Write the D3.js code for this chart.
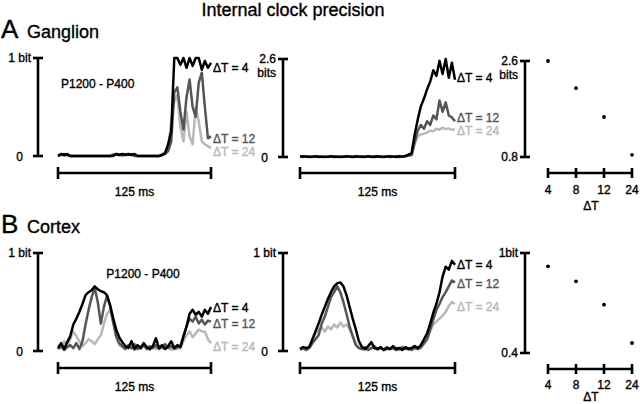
<!DOCTYPE html>
<html><head><meta charset="utf-8">
<script src="https://cdn.jsdelivr.net/npm/d3@7"></script>
<style>
body{margin:0;background:#fff}
text{font-family:"Liberation Sans",Arial,Helvetica,sans-serif;fill:#000}
</style>
</head><body>
<svg id="chart" width="640" height="404"></svg>
<script>
// ---------- data ----------
const seriesLabels = ["ΔT = 4", "ΔT = 12", "ΔT = 24"];
const deltaTLabels = ["4", "8", "12", "24"];
const scaleBarLabel = "125 ms";

// Ganglion, P1200 - P400 (bits, 0..1)
const ganglion1_dt4  = [0,0.02,0.01,0.02,0,0,0,0,0,0, 0,0,0,0,0,0,0,0,0,0.02, 0.01,0.02,0.01,0.02,0.01,0.02,0,0,0,0, 0,0,0,0,0.01,0.03,0.12,0.25,1,1, 0.93,1,0.9,1,0.92,1,1,0.88,0.97,0.9, 0.95];
const ganglion1_dt12 = [0,0.01,0.02,0.01,0,0,0,0,0,0, 0,0,0,0,0,0,0,0,0.01,0.02, 0.01,0.01,0.02,0.01,0.02,0,0,0,0,0, 0,0,0,0,0.01,0.02,0.05,0.15,0.65,0.7, 0.45,0.27,0.6,0.78,0.5,0.4,0.75,0.85,0.5,0.18, 0.2];
const ganglion1_dt24 = [0.01,0.02,0,0.01,0,0,0,0,0,0, 0,0,0,0,0,0,0,0,0.02,0.01, 0.02,0,0.01,0.02,0.01,0.01,0,0,0,0, 0,0,0,0,0.02,0.04,0.1,0.35,0.55,0.62, 0.3,0.15,0.45,0.2,0.12,0.5,0.35,0.15,0.12,0.1, 0.08];

// Ganglion, second panel (bits, 0..2.6)
const ganglion2_dt4  = [0.01,0.02,0.01,0,0.01,0.02,0,0.01,0,0.01, 0.02,0,0.01,0,0.01,0.02,0.01,0,0.02,0.01, 0,0.01,0.02,0.01,0,0.02,0.01,0,0.01,0.02, 0.01,0,0.02,0.01,0.03,0.06,0.1,0.6,1.0,1.35, 1.55,1.8,2.0,2.3,2.15,2.55,2.2,2.6,2.1,2.5, 2.05];
const ganglion2_dt12 = [0.01,0,0.02,0.01,0,0.01,0.02,0,0.01,0, 0.01,0.02,0,0.01,0,0.01,0.02,0.01,0,0.01, 0.02,0,0.01,0,0.02,0.01,0,0.01,0.02,0, 0.01,0.02,0,0.01,0.02,0.04,0.05,0.4,0.7,0.85, 0.75,0.95,0.85,1.1,1.0,1.5,1.2,1.45,1.1,1.05, 0.95];
const ganglion2_dt24 = [0.02,0.01,0,0.02,0.01,0,0.01,0.02,0,0.01, 0,0.02,0.01,0,0.02,0,0.01,0,0.01,0.02, 0.01,0,0.02,0.01,0,0.01,0.02,0,0.01,0, 0.02,0.01,0,0.02,0.01,0.03,0.05,0.35,0.55,0.6, 0.62,0.65,0.7,0.68,0.75,0.72,0.78,0.74,0.76,0.72, 0.74];

// Cortex, P1200 - P400 (bits, 0..1)
const cortex1_dt4  = [0.03,0.08,0.02,0.09,0.15,0.27,0.33,0.4,0.48,0.57, 0.6,0.62,0.66,0.63,0.61,0.6,0.57,0.47,0.34,0.22, 0.14,0.09,0.05,0.03,0.1,0.02,0.06,0.03,0.08,0.04, 0.02,0.05,0.13,0.03,0.06,0.02,0.05,0.1,0.03,0.06, 0.04,0.15,0.25,0.38,0.42,0.37,0.4,0.35,0.42,0.38, 0.45];
const cortex1_dt12 = [0.02,0.05,0.01,0.04,0.06,0.03,0.08,0.02,0.1,0.27, 0.42,0.55,0.64,0.5,0.28,0.45,0.56,0.47,0.3,0.15, 0.08,0.05,0.02,0.06,0.03,0.07,0.02,0.04,0.06,0.02, 0.05,0.03,0.06,0.02,0.04,0.07,0.03,0.05,0.02,0.04, 0.05,0.15,0.25,0.33,0.3,0.35,0.28,0.32,0.27,0.31, 0.3];
const cortex1_dt24 = [0.06,0.03,0.1,0.05,0.12,0.2,0.15,0.1,0.05,0.08, 0.12,0.1,0.07,0.12,0.16,0.28,0.38,0.42,0.3,0.15, 0.06,0.04,0.02,0.05,0.03,0.01,0.04,0.02,0.05,0.03, 0.01,0.04,0.02,0.05,0.03,0.02,0.04,0.01,0.03,0.02, 0.03,0.1,0.16,0.2,0.14,0.18,0.22,0.2,0.2,0.12, 0.08];

// Cortex, second panel (bits, 0..1)
const cortex2_dt4  = [0.02,0.04,0.03,0.04,0.12,0.2,0.28,0.37,0.45,0.53, 0.6,0.66,0.69,0.7,0.66,0.57,0.45,0.33,0.22,0.1, 0.04,0.02,0.05,0.09,0.03,0.02,0.04,0.01,0.03,0.02, 0.05,0.02,0.03,0.01,0.04,0.02,0.03,0.05,0.03,0.06, 0.12,0.18,0.28,0.39,0.48,0.6,0.76,0.86,0.83,0.92, 0.88];
const cortex2_dt12 = [0.02,0.03,0.01,0.03,0.08,0.12,0.16,0.28,0.35,0.45, 0.55,0.6,0.66,0.6,0.5,0.38,0.25,0.15,0.06,0.03, 0.02,0.04,0.01,0.03,0.05,0.02,0.03,0.01,0.04,0.02, 0.03,0.01,0.02,0.04,0.02,0.03,0.01,0.03,0.02,0.04, 0.08,0.12,0.22,0.32,0.42,0.48,0.55,0.6,0.66,0.72, 0.7];
const cortex2_dt24 = [0.01,0.02,0.01,0.04,0.1,0.18,0.22,0.24,0.2,0.25, 0.22,0.27,0.24,0.29,0.25,0.27,0.22,0.16,0.08,0.03, 0.02,0.01,0.03,0.02,0.04,0.01,0.03,0.02,0.01,0.03, 0.02,0.04,0.01,0.02,0.03,0.01,0.02,0.03,0.02,0.03, 0.07,0.12,0.2,0.27,0.3,0.33,0.36,0.4,0.46,0.5, 0.48];

// Final precision vs ΔT
const ganglionPrecision = [2.6, 2.09, 1.55, 0.84];
const cortexPrecision   = [0.92, 0.83, 0.69, 0.46];

// ---------- drawing ----------
const svg = d3.select("#chart");
const colors = ["#000000", "#555555", "#b8b8b8"];
const AX = 2.6;

function txt(x, y, s, size, anchor, fill, central) {
  const t = svg.append("text").attr("x", x).attr("y", y).attr("text-anchor", anchor || "start")
    .style("font-size", size + "px").style("fill", fill || "#000")
    .style("stroke", fill || "#000").style("stroke-width", 0.35).text(s);
  if (central) t.attr("dominant-baseline", "central");
  return t;
}

txt(293, 16, "Internal clock precision", 18, "middle");

function heading(letter, name, y) {
  txt(1, y, letter, 26);
  txt(27, y, name, 18);
}
heading("A", "Ganglion", 38);
heading("B", "Cortex", 233);

function vAxis(ax, yTop, yBot) {
  const g = svg.append("g").attr("stroke", "#000").attr("stroke-width", AX);
  g.append("line").attr("x1", ax).attr("x2", ax).attr("y1", yTop).attr("y2", yBot);
  g.append("line").attr("x1", ax - 5).attr("x2", ax + 5).attr("y1", yTop).attr("y2", yTop);
  g.append("line").attr("x1", ax - 5).attr("x2", ax + 5).attr("y1", yBot).attr("y2", yBot);
}
function label(x, y, s, anchor, size, fill) {
  return txt(x, y, s, size || 12, anchor, fill, true);
}

function tracePanel(cfg) {
  const n = cfg.series[0].length;
  const x = d3.scaleLinear().domain([0, n - 1]).range([cfg.x0, cfg.x1]);
  const y = d3.scaleLinear().domain(cfg.domain).range([cfg.yBot, cfg.yTop]);
  vAxis(cfg.axisX, y(cfg.domain[1]), y(cfg.domain[0]));
  cfg.topLabels.forEach((t, k) => label(cfg.axisX - 7, y(cfg.domain[1]) + k * 14, t, "end"));
  label(cfg.axisX - 15, y(cfg.domain[0]) + 1, "0", "end");
  const line = d3.line().x((d, i) => x(i)).y(d => y(d)).curve(d3.curveLinear);
  [2, 1, 0].forEach(k => {
    svg.append("path").datum(cfg.series[k]).attr("d", line)
      .attr("fill", "none").attr("stroke", colors[k]).attr("stroke-width", 2.5)
      .attr("stroke-linejoin", "round");
  });
  seriesLabels.forEach((t, k) => label(cfg.x1 + 2, cfg.labelY[k], t, "start", 12, colors[k]));
  // scale bar
  const g = svg.append("g").attr("stroke", "#000").attr("stroke-width", AX);
  g.append("line").attr("x1", x(0)).attr("x2", x(n - 1)).attr("y1", cfg.barY).attr("y2", cfg.barY);
  [0, n - 1].forEach(i => g.append("line").attr("x1", x(i)).attr("x2", x(i))
    .attr("y1", cfg.barY - 6).attr("y2", cfg.barY + 6));
  label((cfg.x0 + cfg.x1) / 2, cfg.barY + 19, scaleBarLabel, "middle");
  if (cfg.note) label(cfg.note[0], cfg.note[1], "P1200 - P400", cfg.note[2]);
}

function pointPanel(cfg) {
  const x = d3.scalePoint().domain(deltaTLabels).range([548, 632]);
  const y = d3.scaleLinear().domain(cfg.domain).range([cfg.yBot, cfg.yTop]);
  vAxis(525, cfg.yTop, cfg.yBot);
  cfg.topLabels.forEach((t, k) => label(518, cfg.yTop + k * 14, t, "end"));
  label(518, cfg.yBot, String(cfg.domain[0]), "end");
  svg.append("g").selectAll("circle").data(cfg.values).join("circle")
    .attr("cx", (d, i) => x(deltaTLabels[i])).attr("cy", d => y(d)).attr("r", 1.9).attr("fill", "#000");
  const g = svg.append("g").attr("stroke", "#000").attr("stroke-width", AX);
  g.append("line").attr("x1", x(deltaTLabels[0])).attr("x2", x(deltaTLabels[3]))
    .attr("y1", cfg.axisY).attr("y2", cfg.axisY);
  deltaTLabels.forEach(d => g.append("line").attr("x1", x(d)).attr("x2", x(d))
    .attr("y1", cfg.axisY - 5).attr("y2", cfg.axisY + 5));
  deltaTLabels.forEach(d => label(x(d), cfg.axisY + cfg.tickOff, d, "middle"));
  label(591, cfg.axisY + cfg.titleOff, "ΔT", "middle");
}

tracePanel({x0: 58, x1: 211, axisX: 38, yTop: 58, yBot: 156, domain: [0, 1], topLabels: ["1 bit"],
  series: [ganglion1_dt4, ganglion1_dt12, ganglion1_dt24], labelY: [68, 139, 152], barY: 173,
  note: [61, 84, "start"]});
tracePanel({x0: 300, x1: 455, axisX: 283, yTop: 59, yBot: 157, domain: [0, 2.6], topLabels: ["2.6", "bits"],
  series: [ganglion2_dt4, ganglion2_dt12, ganglion2_dt24], labelY: [78, 118, 131], barY: 173});
pointPanel({domain: [0.8, 2.6], yTop: 61, yBot: 157, topLabels: ["2.6", "bits"], values: ganglionPrecision,
  axisY: 173, tickOff: 17, titleOff: 33});

tracePanel({x0: 58, x1: 211, axisX: 38, yTop: 253, yBot: 351, domain: [0, 1], topLabels: ["1 bit"],
  series: [cortex1_dt4, cortex1_dt12, cortex1_dt24], labelY: [308, 324, 347], barY: 368,
  note: [143, 274, "middle"]});
tracePanel({x0: 300, x1: 455, axisX: 283, yTop: 253, yBot: 351, domain: [0, 1], topLabels: ["1 bit"],
  series: [cortex2_dt4, cortex2_dt12, cortex2_dt24], labelY: [265, 284, 307], barY: 368});
pointPanel({domain: [0.4, 1], yTop: 253, yBot: 353, topLabels: ["1bit"], values: cortexPrecision,
  axisY: 369, tickOff: 16, titleOff: 28});
</script>
</body></html>
